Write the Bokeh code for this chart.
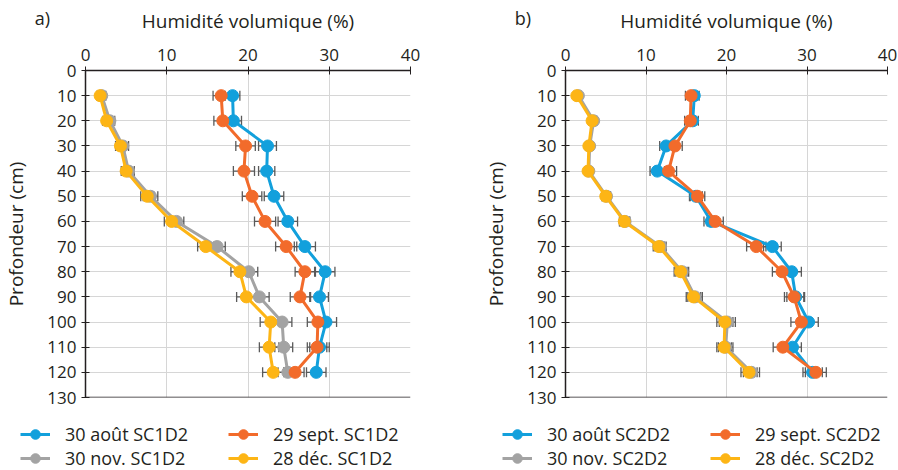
from bokeh.plotting import figure
from bokeh.models import (Range1d, FixedTicker, Legend, LegendItem, Label,
                          Whisker, ColumnDataSource, Span)
from bokeh.layouts import row, column
from bokeh.embed import file_html
from bokeh.resources import INLINE

# ---- data ----
depth = [10, 20, 30, 40, 50, 60, 70, 80, 90, 100, 110, 120]

a_aout = [18.1, 18.2, 22.4, 22.3, 23.2, 24.9, 27.0, 29.5, 28.8, 29.6, 28.8, 28.4]
a_sept = [16.7, 16.9, 19.7, 19.5, 20.5, 22.1, 24.7, 27.0, 26.4, 28.6, 28.5, 25.8]
a_nov = [2.0, 3.0, 4.6, 5.3, 8.0, 11.2, 16.2, 20.1, 21.4, 24.2, 24.4, 24.9]
a_dec = [1.8, 2.6, 4.3, 5.0, 7.6, 10.6, 14.8, 19.0, 19.8, 22.8, 22.6, 23.1]
a_aout_err = [0.9, 1.0, 1.1, 1.0, 1.2, 1.2, 1.3, 1.2, 1.1, 1.3, 1.2, 1.2]
a_sept_err = [1.0, 1.1, 1.2, 1.3, 1.2, 1.3, 1.3, 1.2, 1.2, 1.3, 1.2, 1.1]
a_nov_err = [0.5, 0.6, 0.7, 0.7, 0.9, 0.9, 1.0, 1.1, 1.2, 1.2, 1.1, 1.2]
a_dec_err = [0.4, 0.5, 0.6, 0.6, 0.8, 0.9, 1.0, 1.1, 1.2, 1.3, 1.2, 1.3]

b_aout = [16.0, 15.8, 12.5, 11.4, 16.2, 18.1, 25.7, 28.1, 28.6, 30.2, 28.2, 30.7]
b_sept = [15.6, 15.5, 13.6, 12.8, 16.4, 18.6, 23.7, 26.9, 28.4, 29.3, 27.0, 31.1]
b_nov = [1.6, 3.5, 3.0, 2.9, 5.1, 7.4, 11.8, 14.5, 16.1, 20.1, 19.9, 23.1]
b_dec = [1.4, 3.3, 2.9, 2.8, 5.0, 7.3, 11.6, 14.3, 15.9, 19.8, 19.7, 22.8]
b_aout_err = [0.6, 0.7, 0.8, 0.9, 0.8, 0.9, 1.1, 1.2, 1.1, 1.2, 1.1, 1.2]
b_sept_err = [0.7, 0.7, 0.9, 1.0, 0.9, 1.0, 1.2, 1.2, 1.2, 1.3, 1.2, 1.3]
b_nov_err = [0.3, 0.4, 0.4, 0.4, 0.5, 0.6, 0.7, 0.8, 0.9, 1.0, 0.9, 1.0]
b_dec_err = [0.3, 0.4, 0.4, 0.4, 0.5, 0.6, 0.7, 0.8, 0.9, 1.0, 0.9, 1.0]

x_ticks = [0, 10, 20, 30, 40]
y_ticks = [0, 10, 20, 30, 40, 50, 60, 70, 80, 90, 100, 110, 120, 130]

labels_a = ["30 août SC1D2", "30 nov. SC1D2", "29 sept. SC1D2", "28 déc. SC1D2"]
labels_b = ["30 août SC2D2", "30 nov. SC2D2", "29 sept. SC2D2", "28 déc. SC2D2"]

C_BLUE = "#12a0dc"
C_ORANGE = "#f26b2b"
C_GRAY = "#a3a3a3"
C_YELLOW = "#fdb515"

FONT = "Open Sans"
TXT = "#231f20"
ERR = "#5a5a5a"


def make_panel(tag, series, frame_w, left, right):
    p = figure(frame_width=frame_w, frame_height=327,
               min_border_left=left, min_border_right=right,
               min_border_top=70, min_border_bottom=25,
               x_range=Range1d(0, 40), y_range=Range1d(130, 0),
               x_axis_location="above",
               output_backend="svg", toolbar_location=None)
    p.outline_line_color = None
    p.background_fill_color = "white"

    p.xaxis.ticker = FixedTicker(ticks=x_ticks)
    p.yaxis.ticker = FixedTicker(ticks=y_ticks)
    p.xgrid.ticker = FixedTicker(ticks=x_ticks)
    p.ygrid.ticker = FixedTicker(ticks=y_ticks)
    p.grid.grid_line_color = "#d6d6d6"
    p.grid.grid_line_width = 1

    for ax in (p.xaxis, p.yaxis):
        ax.axis_line_color = TXT
        ax.axis_line_width = 1.5
        ax.major_tick_line_color = TXT
        ax.major_tick_in = 4
        ax.major_tick_out = 4
        ax.minor_tick_line_color = None
        ax.major_label_text_font = FONT
        ax.major_label_text_font_size = "17px"
        ax.major_label_text_color = TXT
        ax.axis_label_text_font = FONT
        ax.axis_label_text_font_size = "19px"
        ax.axis_label_text_font_style = "normal"
        ax.axis_label_text_color = TXT

    p.xaxis.axis_label = "Humidité volumique (%)"
    p.xaxis.major_label_standoff = 6
    p.xaxis.axis_label_standoff = 12
    p.yaxis.axis_label = "Profondeur (cm)"
    p.yaxis.major_label_standoff = 5
    p.yaxis.axis_label_standoff = 15

    p.add_layout(Span(location=130, dimension="width", line_color=TXT,
                      line_width=1.3))

    for vals, errs, color in series:
        src = ColumnDataSource(dict(
            y=depth, x=vals,
            lo=[v - e for v, e in zip(vals, errs)],
            hi=[v + e for v, e in zip(vals, errs)]))
        w = Whisker(source=src, base="y", lower="lo", upper="hi",
                    dimension="width", line_color=ERR, line_width=1.3,
                    level="underlay")
        for h in (w.upper_head, w.lower_head):
            h.size = 10
            h.line_color = ERR
            h.line_width = 1.3
        p.add_layout(w)
        p.line("x", "y", source=src, line_color=color, line_width=3)
        p.scatter("x", "y", source=src, size=12, fill_color=color,
                  line_color=color)

    p.add_layout(Label(x=-5.3, y=-20.7, text=tag, text_font=FONT,
                       text_font_size="18px", text_color=TXT,
                       text_line_height=1.0,
                       text_align="center", text_baseline="middle"), "below")
    return p


def make_legend(series, labels, width, vx):
    # legend-only strip: the series are plotted far outside its view,
    # so only the legend entries show
    lf = figure(width=width, height=48, x_range=Range1d(-1000, -999),
                y_range=Range1d(-1000, -999), x_axis_type=None,
                y_axis_type=None, min_border=0, output_backend="svg",
                toolbar_location=None)
    lf.outline_line_color = None
    items = []
    for (vals, errs, color), lab in zip(series, labels):
        ln = lf.line(x=vals, y=depth, line_color=color, line_width=3)
        sc = lf.scatter(x=vals, y=depth, size=12, fill_color=color,
                        line_color=color)
        items.append(LegendItem(label=lab, renderers=[ln, sc]))
    legend = Legend(items=items, location=(vx, 0), orientation="vertical",
                    nrows=2, label_text_font=FONT, label_text_font_size="18px",
                    label_text_color=TXT, glyph_width=30, glyph_height=24,
                    label_height=24, label_standoff=15, label_width=163,
                    spacing=0, padding=0, margin=0, border_line_color=None,
                    background_fill_alpha=0)
    lf.add_layout(legend)
    return lf


series_a = [(a_aout, a_aout_err, C_BLUE), (a_nov, a_nov_err, C_GRAY),
            (a_sept, a_sept_err, C_ORANGE), (a_dec, a_dec_err, C_YELLOW)]
series_b = [(b_aout, b_aout_err, C_BLUE), (b_nov, b_nov_err, C_GRAY),
            (b_sept, b_sept_err, C_ORANGE), (b_dec, b_dec_err, C_YELLOW)]

pa = make_panel("a)", series_a, 325, 83, 70)
pb = make_panel("b)", series_b, 322, 85, 12)
la = make_legend(series_a, labels_a, 478, 20)
lb = make_legend(series_b, labels_b, 419, 22)

layout = row(column(pa, row(la)), column(pb, row(lb)))
open("out.html", "w").write(file_html(layout, INLINE))
